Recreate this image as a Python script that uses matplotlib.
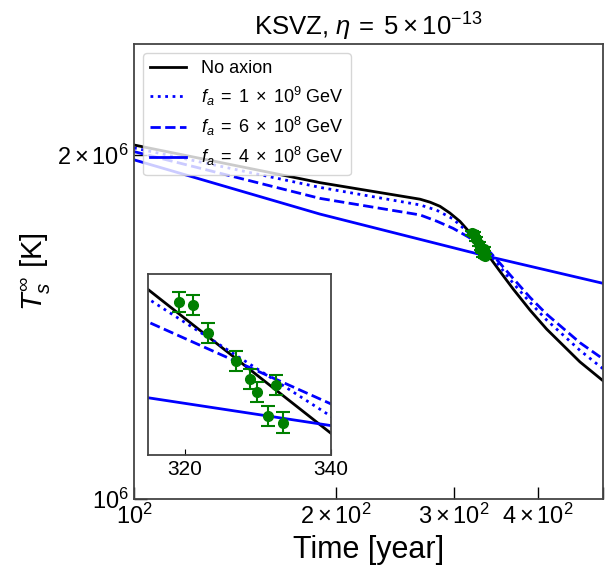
import numpy as np
import matplotlib
matplotlib.use("Agg")
import matplotlib.pyplot as plt
from matplotlib.ticker import FixedLocator

plt.rcParams['font.family'] = ['Liberation Sans', 'DejaVu Sans']
plt.rcParams['mathtext.fontset'] = 'custom'
plt.rcParams['mathtext.rm'] = 'Liberation Sans'
plt.rcParams['mathtext.it'] = 'Liberation Sans:italic'
plt.rcParams['mathtext.bf'] = 'Liberation Sans:bold'

# ---- data (time in years, surface temperature in K) ----
t_noaxion = [100, 189.3, 266.9, 276.3, 285.8, 295.6, 306.1, 315, 340, 351.3, 367.5,
             389.2, 412.1, 462.0, 500]
T_noaxion = [2.040e6, 1.891e6, 1.829e6, 1.818e6, 1.803e6, 1.779e6, 1.749e6, 1.716e6,
             1.623e6, 1.581e6, 1.526e6, 1.463e6, 1.408e6, 1.318e6, 1.269e6]

t_fa1e9 = [100, 189.3, 266.9, 282.5, 298.8, 315, 340, 351.3, 367.5, 389.2, 412.1,
           462.0, 500]
T_fa1e9 = [2.028e6, 1.873e6, 1.808e6, 1.789e6, 1.758e6, 1.710e6, 1.634e6, 1.596e6,
           1.544e6, 1.486e6, 1.434e6, 1.349e6, 1.300e6]

t_fa6e8 = [100, 189.3, 266.9, 282.5, 298.8, 315, 340, 351.3, 367.5, 389.2, 412.1,
           462.0, 500]
T_fa6e8 = [2.013e6, 1.832e6, 1.772e6, 1.750e6, 1.725e6, 1.695e6, 1.642e6, 1.607e6,
           1.559e6, 1.501e6, 1.451e6, 1.370e6, 1.326e6]

t_fa4e8 = [100, 189.3, 315, 340, 500]
T_fa4e8 = [1.980e6, 1.775e6, 1.646e6, 1.628e6, 1.544e6]

t_obs = [319.2, 321.15, 323.2, 327.05, 328.9, 329.9, 332.45, 331.45, 333.45]
T_obs = [1.708e6, 1.706e6, 1.688e6, 1.670e6, 1.658e6, 1.650e6, 1.654e6, 1.634e6, 1.630e6]
T_err = [0.0065e6] * 9

labels = ['No axion', r'$f_a\;=\;1\;\times\;10^{9}$ GeV',
          r'$f_a\;=\;6\;\times\;10^{8}$ GeV', r'$f_a\;=\;4\;\times\;10^{8}$ GeV']
title = r'KSVZ, $\eta\:=\:5\:\times\:10^{-13}$'

fig = plt.figure(figsize=(6.06, 5.65), dpi=100)
ax = fig.add_axes([0.2211, 0.1168, 0.7739, 0.8053])


def draw(a):
    a.plot(t_noaxion, T_noaxion, color='black', lw=2, label=labels[0])
    a.plot(t_fa1e9, T_fa1e9, color='blue', lw=2, ls=':', label=labels[1])
    a.plot(t_fa6e8, T_fa6e8, color='blue', lw=2, ls='--', label=labels[2])
    a.plot(t_fa4e8, T_fa4e8, color='blue', lw=2, ls='-', label=labels[3])
    a.errorbar(t_obs, T_obs, yerr=T_err, fmt='o', color='green', ms=7,
               capsize=5, elinewidth=1.5, capthick=1.5, zorder=5)


draw(ax)
ax.set_xscale('log')
ax.set_yscale('log')
ax.set_xlim(100, 500)
ax.set_ylim(1e6, 2.5e6)
ax.yaxis.set_minor_locator(FixedLocator([2e6]))
ax.tick_params(which='both', direction='in', labelsize=17, length=9, width=1)
ax.set_xlabel('Time [year]', fontsize=22)
ax.set_ylabel(r'$T_s^{\infty}$ [K]', fontsize=21)
ax.set_title(title, fontsize=18.5)
for s in ax.spines.values():
    s.set_color('#444444')
    s.set_linewidth(1.3)
ax.legend(loc='upper left', fontsize=13, labelspacing=0.4)

axin = fig.add_axes([0.2442, 0.1947, 0.302, 0.3204])
draw(axin)
axin.set_xlim(315, 340)
axin.set_ylim(1.609e6, 1.726e6)
axin.set_xticks([320, 340])
axin.set_yticks([])
axin.tick_params(direction='in', labelsize=15, length=4)
for s in axin.spines.values():
    s.set_color('#444444')
    s.set_linewidth(1.3)

fig.savefig('out.png', dpi=100)
